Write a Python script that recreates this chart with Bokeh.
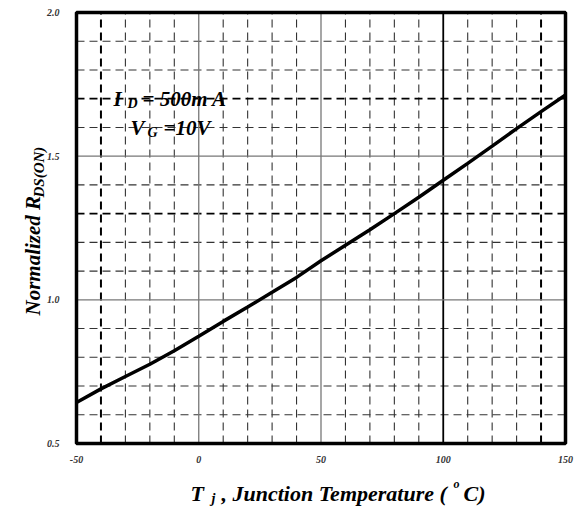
from bokeh.plotting import figure
from bokeh.models import Label, FixedTicker, Range1d
from bokeh.embed import file_html
from bokeh.resources import INLINE
import math

# ---- data ----
temp_c = [-50, -40, -30, -20, -10, 0, 10, 20, 30, 40, 50, 60, 70, 80, 90, 100, 110, 120, 130, 140, 150]
r_norm = [0.643, 0.690, 0.733, 0.776, 0.823, 0.873, 0.925, 0.975, 1.026, 1.078, 1.136,
          1.190, 1.244, 1.300, 1.357, 1.416, 1.475, 1.535, 1.596, 1.655, 1.713]

x_major = [-50, 0, 50, 100, 150]
x_minor = [-40, -30, -20, -10, 10, 20, 30, 40, 60, 70, 80, 90, 110, 120, 130, 140]
y_major = [0.5, 1.0, 1.5, 2.0]
y_minor = [0.6, 0.7, 0.8, 0.9, 1.1, 1.2, 1.3, 1.4, 1.6, 1.7, 1.8, 1.9]
x_tick_labels = ["-50", "0", "50", "100", "150"]
y_tick_labels = ["0.5", "1.0", "1.5", "2.0"]

FONT = "Liberation Serif"

# ---- layout: the plotting box sits at these canvas pixels ----
W, H = 579, 511
BOX_L, BOX_R, BOX_T, BOX_B = 76, 565, 12, 443
x0, x1 = x_major[0], x_major[-1]
y0, y1 = y_major[0], y_major[-1]
sx = (BOX_R - BOX_L) / (x1 - x0)
sy = (BOX_B - BOX_T) / (y1 - y0)
xr = Range1d(x0 - BOX_L / sx, x1 + (W - BOX_R) / sx)
yr = Range1d(y0 - (H - BOX_B) / sy, y1 + BOX_T / sy)

p = figure(width=W, height=H, output_backend="svg", toolbar_location=None,
           x_range=xr, y_range=yr, min_border=0)
p.background_fill_color = "white"
p.border_fill_color = "white"
p.outline_line_color = None
p.xgrid.visible = False
p.ygrid.visible = False

# axes pinned to the box edges
for ax, ticks, labels, standoff, loc in ((p.xaxis[0], x_major, x_tick_labels, 12, y0),
                                         (p.yaxis[0], y_major, y_tick_labels, 17, x0)):
    ax.fixed_location = loc
    ax.ticker = FixedTicker(ticks=ticks)
    ax.major_label_overrides = {t: l for t, l in zip(ticks, labels)}
    ax.axis_line_color = None
    ax.major_tick_line_color = None
    ax.minor_tick_line_color = None
    ax.major_tick_out = 0
    ax.major_tick_in = 0
    ax.major_label_standoff = standoff
    ax.major_label_text_font = FONT
    ax.major_label_text_font_style = "bold italic"
    ax.major_label_text_font_size = "10px"
    ax.major_label_text_color = "#333333"

# minor dashed grid
xm_bold = [v for v in x_minor if v in (-40, 140)]
xm_thin = [v for v in x_minor if v not in (-40, 140)]
ym_bold = [v for v in y_minor if v in (1.3, 1.7)]
ym_thin = [v for v in y_minor if v not in (1.3, 1.7)]
p.segment(x0=xm_thin, x1=xm_thin, y0=[y0] * len(xm_thin), y1=[y1] * len(xm_thin),
          line_color="#333333", line_width=1.1, line_dash="8 5")
p.segment(x0=xm_bold, x1=xm_bold, y0=[y0] * len(xm_bold), y1=[y1] * len(xm_bold),
          line_color="black", line_width=2, line_dash="8 5")
p.segment(x0=[x0] * len(ym_thin), x1=[x1] * len(ym_thin), y0=ym_thin, y1=ym_thin,
          line_color="#333333", line_width=1.1, line_dash="8 5")
p.segment(x0=[x0] * len(ym_bold), x1=[x1] * len(ym_bold), y0=ym_bold, y1=ym_bold,
          line_color="black", line_width=1.8, line_dash="8 5")

# major solid grid
xg_gray = [v for v in x_major[1:-1] if v != 100]
xg_dark = [v for v in x_major[1:-1] if v == 100]
yg = y_major[1:-1]
p.segment(x0=xg_gray, x1=xg_gray, y0=[y0] * len(xg_gray), y1=[y1] * len(xg_gray),
          line_color="#777777", line_width=1.3)
p.segment(x0=xg_dark, x1=xg_dark, y0=[y0] * len(xg_dark), y1=[y1] * len(xg_dark),
          line_color="black", line_width=1.8)
p.segment(x0=[x0] * len(yg), x1=[x1] * len(yg), y0=yg, y1=yg,
          line_color="#777777", line_width=1.3)

# curve
p.line(temp_c, r_norm, line_color="black", line_width=3.5)

# box outline
p.quad(left=[x0], right=[x1], bottom=[y0], top=[y1], fill_color=None,
       line_color="black", line_width=3.5)

# text helper: positions given in canvas pixels (from top-left)
def lab(text, px, py, size, angle=0.0):
    p.add_layout(Label(x=px, y=py, x_units="canvas", y_units="canvas", text=text,
                       text_font=FONT, text_font_style="bold italic",
                       text_font_size=f"{size}px", text_color="black",
                       text_align="left", text_baseline="alphabetic", angle=angle))

# x-axis title
lab("T", 190, 493, 22)
lab("j", 211, 498, 14)
lab(", Junction Temperature (", 221, 493, 22)
lab("o", 453, 483, 12)
lab("C)", 463, 493, 22)

# y-axis title (rotated)
lab("Normalized R", 32, 315, 21, math.pi / 2)
lab("DS(ON)", 38, 197, 15, math.pi / 2)

# annotation
lab("I", 113, 98, 21)
lab("D", 127, 103, 14)
lab("= 500m A", 142, 98, 21)
lab("V", 130, 127, 21)
lab("G", 147, 132, 14)
lab("=10V", 163, 127, 21)

open("out.html", "w").write(file_html(p, INLINE))
